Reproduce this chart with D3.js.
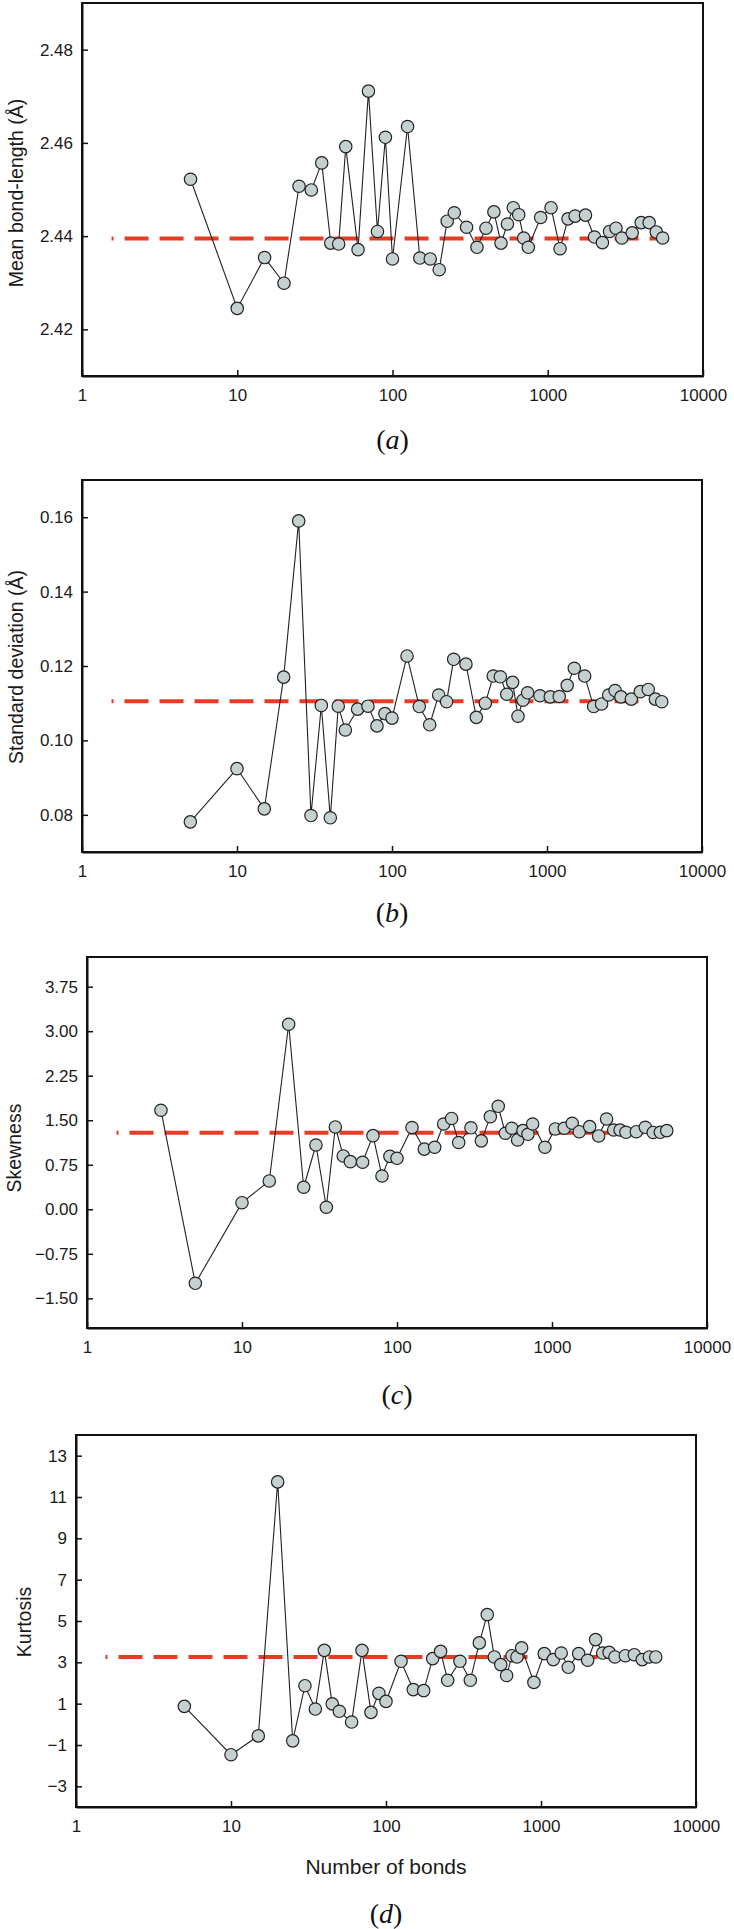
<!DOCTYPE html>
<html>
<head>
<meta charset="utf-8">
<script src="https://cdn.jsdelivr.net/npm/d3@7"></script>
<style>
  html, body { margin: 0; padding: 0; background: #fff; }
  svg { display: block; }
  .tick text { font-family: "Liberation Sans", Arial, sans-serif; font-size: 17px; fill: #1a1a1a; }
</style>
</head>
<body>
<svg id="chart" width="734" height="1929"></svg>
<script>
// ---------------- data ----------------
const xBonds = [5,10,15,20,25,30,35,40,45,50,60,70,80,90,100,125,150,175,200,225,250,300,350,400,450,500,550,600,650,700,750,900,1050,1200,1350,1500,1750,2000,2250,2500,2750,3000,3500,4000,4500,5000,5500];
const xBondsSkew = [3,5,10,15,20,25,30,35,40,45,50,60,70,80,90,100,125,150,175,200,225,250,300,350,400,450,500,550,600,650,700,750,900,1050,1200,1350,1500,1750,2000,2250,2500,2750,3000,3500,4000,4500,5000,5500];

const meanBond = [2.4522,2.4245,2.4354,2.4299,2.4507,2.4499,2.4557,2.4385,2.4383,2.4592,2.4371,2.4711,2.4410,2.4612,2.4351,2.4635,2.4353,2.4351,2.4328,2.4432,2.4450,2.4419,2.4376,2.4417,2.4452,2.4385,2.4426,2.4461,2.4446,2.4396,2.4376,2.4440,2.4461,2.4373,2.4437,2.4443,2.4445,2.4398,2.4386,2.4410,2.4417,2.4396,2.4407,2.4429,2.4429,2.4409,2.4396];
const stdDev = [0.0781,0.0924,0.0816,0.1170,0.1590,0.0798,0.1094,0.0792,0.1092,0.1028,0.1084,0.1092,0.1039,0.1072,0.1060,0.1227,0.1091,0.1042,0.1122,0.1104,0.1218,0.1205,0.1062,0.1100,0.1173,0.1171,0.1124,0.1156,0.1065,0.1108,0.1128,0.1120,0.1117,0.1118,0.1148,0.1194,0.1173,0.1091,0.1098,0.1122,0.1134,0.1117,0.1111,0.1131,0.1137,0.1111,0.1104];
const skewness = [1.668,-1.247,0.111,0.477,3.117,0.371,1.083,0.034,1.387,0.898,0.802,0.792,1.240,0.561,0.892,0.859,1.378,1.013,1.045,1.437,1.530,1.125,1.373,1.153,1.560,1.735,1.281,1.365,1.168,1.325,1.263,1.437,1.045,1.353,1.365,1.449,1.307,1.392,1.235,1.521,1.336,1.336,1.297,1.307,1.381,1.294,1.297,1.325];
const kurtosis = [0.87,-1.47,-0.56,11.73,-0.80,1.87,0.74,3.58,0.99,0.63,0.11,3.58,0.58,1.50,1.11,3.05,1.68,1.63,3.18,3.53,2.13,3.05,2.13,3.94,5.31,3.26,2.89,2.36,3.32,3.26,3.70,2.03,3.42,3.13,3.45,2.76,3.42,3.10,4.10,3.45,3.48,3.26,3.32,3.37,3.13,3.26,3.26];

// reference (population) values drawn as dashed lines
const refValues = [2.4395, 0.1105, 1.29, 3.26];
const refRange = [1.55, 6000];

// ticks and labels
const xTicks = [1,10,100,1000,10000];
const meanTicks = [2.42,2.44,2.46,2.48];
const sdTicks = [0.08,0.10,0.12,0.14,0.16];
const skewTicks = [-1.5,-0.75,0,0.75,1.5,2.25,3.0,3.75];
const kurtTicks = [-3,-1,1,3,5,7,9,11,13];
const yTitles = ["Mean bond-length (Å)", "Standard deviation (Å)", "Skewness", "Kurtosis"];
const panelLetters = ["a","b","c","d"];
const xTitle = "Number of bonds";

// ---------------- layout ----------------
const panels = [
  { x: xBonds, y: meanBond, ref: refValues[0], yDomain: [2.41, 2.49], ticks: meanTicks, fmt: d3.format(".2f"),
    left: 82, right: 703, top: 3, bottom: 376, titleX: 22.5, titleY: 193, letterY: 449 },
  { x: xBonds, y: stdDev, ref: refValues[1], yDomain: [0.07, 0.17], ticks: sdTicks, fmt: d3.format(".2f"),
    left: 82, right: 702, top: 480, bottom: 852, titleX: 22.5, titleY: 667, letterY: 922 },
  { x: xBondsSkew, y: skewness, ref: refValues[2], yDomain: [-2.0, 4.25], ticks: skewTicks, fmt: d3.format(".2f"),
    left: 87, right: 707, top: 957, bottom: 1328, titleX: 21, titleY: 1148, letterY: 1404 },
  { x: xBonds, y: kurtosis, ref: refValues[3], yDomain: [-4, 14], ticks: kurtTicks, fmt: d3.format("d"),
    left: 76, right: 696, top: 1435, bottom: 1807, titleX: 31, titleY: 1622, letterY: 1923 }
];

const svg = d3.select("#chart");
svg.append("rect").attr("width", 734).attr("height", 1929).attr("fill", "#fff");

panels.forEach((p, i) => {
  const xs = d3.scaleLog().domain([1, 10000]).range([p.left, p.right]);
  const ys = d3.scaleLinear().domain(p.yDomain).range([p.bottom, p.top]);
  const g = svg.append("g");

  // frame
  g.append("rect")
    .attr("x", p.left).attr("y", p.top)
    .attr("width", p.right - p.left).attr("height", p.bottom - p.top)
    .attr("fill", "none").attr("stroke", "#111").attr("stroke-width", 2);

  // axes
  const yAxis = d3.axisLeft(ys).tickValues(p.ticks).tickFormat(p.fmt)
    .tickSizeInner(-6).tickSizeOuter(0).tickPadding(9);
  const ya = g.append("g").attr("transform", `translate(${p.left},0)`).call(yAxis);
  ya.select(".domain").attr("stroke", "#111").attr("stroke-width", 2);
  ya.selectAll(".tick line").attr("stroke", "#111").attr("stroke-width", 1.5);

  const xAxis = d3.axisBottom(xs).tickValues(xTicks).tickFormat(d3.format("d"))
    .tickSizeInner(-6).tickSizeOuter(0).tickPadding(13);
  const xa = g.append("g").attr("transform", `translate(0,${p.bottom})`).call(xAxis);
  xa.select(".domain").attr("stroke", "#111").attr("stroke-width", 2);
  xa.selectAll(".tick line").attr("stroke", "#111").attr("stroke-width", 1.5);

  // y title
  g.append("text")
    .attr("transform", `translate(${p.titleX},${p.titleY}) rotate(-90)`)
    .attr("text-anchor", "middle")
    .attr("font-family", "'Liberation Sans', Arial, sans-serif")
    .attr("font-size", 19.5).attr("fill", "#1a1a1a")
    .text(yTitles[i]);

  // reference dashed line
  g.append("line")
    .attr("x1", xs(refRange[0])).attr("x2", xs(refRange[1]))
    .attr("y1", ys(p.ref)).attr("y2", ys(p.ref))
    .attr("stroke", "#e63c24").attr("stroke-width", 4)
    .attr("stroke-dasharray", "24,11").attr("stroke-dashoffset", 22);

  // data line
  const pts = p.x.map((xv, k) => [xv, p.y[k]]);
  g.append("path")
    .attr("d", d3.line().x(d => xs(d[0])).y(d => ys(d[1]))(pts))
    .attr("fill", "none").attr("stroke", "#222").attr("stroke-width", 1.1);

  // markers
  g.selectAll("circle.pt").data(pts).enter().append("circle")
    .attr("class", "pt")
    .attr("cx", d => xs(d[0])).attr("cy", d => ys(d[1])).attr("r", 6.2)
    .attr("fill", "#c5d1d1").attr("stroke", "#222").attr("stroke-width", 1.2);

  // panel letter
  const lt = g.append("text")
    .attr("x", (p.left + p.right) / 2).attr("y", p.letterY)
    .attr("text-anchor", "middle")
    .attr("font-family", "'Liberation Serif', 'Times New Roman', serif")
    .attr("font-size", 28).attr("fill", "#111");
  lt.append("tspan").text("(");
  lt.append("tspan").attr("font-style", "italic").text(panelLetters[i]);
  lt.append("tspan").text(")");

  if (i === 3) {
    g.append("text")
      .attr("x", (p.left + p.right) / 2).attr("y", 1874)
      .attr("text-anchor", "middle")
      .attr("font-family", "'Liberation Sans', Arial, sans-serif")
      .attr("font-size", 21).attr("fill", "#1a1a1a")
      .text(xTitle);
  }
});
</script>
</body>
</html>
